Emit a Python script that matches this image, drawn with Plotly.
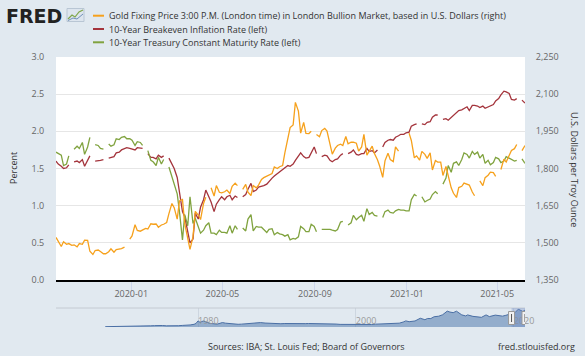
import plotly.graph_objects as go
import pandas as pd

START, END = '2019-09-23', '2021-06-07'
_days = pd.date_range(START, END, freq='D')
dates = [d.strftime('%Y-%m-%d') for d in _days if d.weekday() in (0, 3)]

# Gold Fixing Price 3:00 P.M. (USD / troy oz)
gold = [
    1522, 1504, 1485,
    1504, 1494, 1497, 1490, 1492, 1484, 1497, 1494, 1511,
    1510, 1466, 1453, 1469, 1471, 1465, 1456, 1456,
    1464, 1476, 1462, 1473, 1475, 1477, 1483, None, 1515,
    1528, 1573, 1550, 1547, 1551, 1558, 1556, 1577, 1575,
    1576, 1563, 1572, 1575, 1582, 1618, 1659, 1642,
    1596, 1669, 1675, 1577, 1515, 1474, 1525, 1627, 1612,
    1594, 1659, 1684, None, 1722, 1689, 1731, 1704, 1702,
    1706, 1713, 1699, 1728, 1741, 1731, None, 1716,
    1736, 1704, 1691, 1731, 1722, 1733, 1756, 1763, 1770,
    1772, 1780, 1806, 1800, 1807, 1812, 1863, 1931, 1965,
    1976, 2067, 2032, 1943, 1986, 1942, 1941, 1950, None,
    1937, 1928, 1953, 1962, 1951, 1894, 1858, 1882,
    1893, 1898, 1893, 1929, 1900, 1906, 1906, 1902, 1870,
    1887, 1938, 1854, 1868, 1890, 1860, 1835, 1809, 1764,
    1831, 1862, 1836, 1828, 1887, 1870, None, None, None,
    1943, 1913, 1843, 1851, 1834, 1869, 1857, 1841,
    1863, 1794, 1832, 1826, 1826, 1772, 1808, 1769,
    1722, 1700, 1683, 1723, 1728, 1741, 1736, 1733, 1705,
    1690, None, 1750, 1731, 1763, 1773, 1785, 1783, 1768,
    None, 1796, 1838, 1826, 1857, 1873, 1880, 1897, None,
    1872, 1893,
]

# 10-Year Breakeven Inflation Rate (%)
breakeven = [
    1.60, 1.56, 1.53,
    1.50, 1.51, 1.55, None, 1.59, 1.60, 1.58, 1.62, 1.53,
    1.60, 1.67, None, 1.60, 1.60, 1.61, 1.62, None,
    1.64, 1.65, 1.66, 1.71, 1.72, 1.75, 1.77, 1.78, 1.77,
    1.76, 1.75, 1.78, 1.77, 1.77, None, 1.70, 1.65, 1.65,
    1.63, 1.68, 1.65, 1.67, None, 1.64, 1.57, 1.50,
    1.38, 1.15, 0.92, 0.85, 0.62, 0.50, 0.55, 0.90, 0.82,
    0.98, 1.08, 1.21, 1.12, 1.05, 0.92, 1.02, 1.08, 1.12,
    1.08, 1.12, 1.14, 1.08, 1.13, 1.11, None, 1.12,
    1.15, 1.22, 1.30, 1.19, 1.21, 1.25, 1.26, 1.27, 1.29,
    1.33, 1.37, 1.40, 1.43, 1.46, 1.48, 1.50, 1.54, 1.53,
    1.56, 1.61, 1.66, 1.71, 1.66, 1.64, 1.65, 1.72, 1.79,
    1.70, None, 1.66, 1.68, 1.67, 1.61, 1.59, 1.62,
    1.63, 1.68, 1.70, None, 1.70, 1.72, 1.75, 1.69, 1.68,
    1.70, 1.70, 1.77, 1.73, 1.74, 1.71, 1.75, None, 1.79,
    1.85, 1.88, 1.89, 1.88, 1.92, 1.94, 1.96, 1.96, 1.98,
    1.99, 2.07, 2.09, 2.10, None, 2.10, 2.09, 2.12,
    2.13, 2.19, 2.22, 2.22, None, 2.16, 2.17, 2.15,
    2.19, 2.22, 2.25, 2.28, 2.29, 2.31, 2.33, 2.28, 2.35,
    2.35, 2.34, 2.32, 2.34, 2.31, 2.33, 2.34, 2.36, 2.41,
    2.44, 2.49, 2.54, 2.53, 2.51, 2.43, 2.42, 2.44, None,
    2.42, 2.38,
]

# 10-Year Treasury Constant Maturity Rate (%)
treasury = [
    1.72, 1.70, 1.68,
    1.54, 1.56, 1.67, None, 1.76, 1.80, 1.77, 1.85, 1.69,
    1.79, 1.92, None, 1.82, 1.81, 1.77, 1.76, None,
    1.83, 1.80, 1.82, 1.90, 1.89, 1.92, 1.93, 1.90, 1.90,
    1.88, 1.81, 1.86, 1.85, 1.81, None, 1.74, 1.61, 1.59,
    1.54, 1.65, 1.56, 1.62, None, 1.52, 1.38, 1.30,
    1.16, 0.92, 0.54, 0.88, 0.73, 1.12, 0.76, 0.83, 0.70,
    0.63, 0.67, 0.73, 0.77, 0.63, 0.63, 0.61, 0.67, 0.64,
    0.64, 0.63, 0.73, 0.63, 0.73, 0.68, None, 0.70,
    0.66, 0.82, 0.88, 0.66, 0.72, 0.71, 0.71, 0.68, 0.64,
    0.68, 0.69, 0.61, 0.64, 0.62, 0.61, 0.59, 0.61, 0.54,
    0.56, 0.55, 0.58, 0.72, 0.69, 0.65, 0.65, 0.75, 0.72,
    0.65, None, 0.68, 0.68, 0.69, 0.68, 0.67, 0.66,
    0.68, 0.78, 0.79, None, 0.74, 0.77, 0.87, 0.81, 0.84,
    0.87, 0.79, 0.96, 0.88, 0.91, 0.87, 0.86, None, 0.84,
    0.92, 0.94, 0.91, 0.90, 0.93, 0.95, 0.94, 0.94, 0.93,
    0.93, 1.08, 1.15, 1.13, None, 1.12, 1.05, 1.07,
    1.09, 1.15, 1.19, 1.16, None, 1.29, 1.37, 1.54,
    1.45, 1.57, 1.59, 1.54, 1.62, 1.71, 1.69, 1.64, 1.73,
    1.69, 1.72, 1.64, 1.69, 1.57, 1.61, 1.55, 1.58, 1.65,
    1.63, 1.58, 1.60, 1.66, 1.64, 1.63, 1.60, 1.61, None,
    1.63, 1.57,
]

# Navigator: long-run gold history (approximate)
nav_dates = [
    '1968-04-01', '1969-01-01', '1970-01-01', '1971-01-01', '1972-01-01', '1972-07-01',
    '1973-01-01', '1973-07-01', '1974-01-01', '1974-07-01', '1975-01-01', '1975-07-01',
    '1976-01-01', '1976-08-01', '1977-01-01', '1977-07-01', '1978-01-01', '1978-07-01',
    '1979-01-01', '1979-07-01', '1979-10-01', '1980-01-01', '1980-04-01', '1980-09-01',
    '1981-01-01', '1981-07-01', '1982-06-01', '1982-11-01', '1983-02-01', '1983-07-01',
    '1984-01-01', '1984-07-01', '1985-02-01', '1985-07-01', '1986-01-01', '1986-09-01',
    '1987-01-01', '1987-07-01', '1987-12-01', '1988-07-01', '1989-01-01', '1989-07-01',
    '1990-01-01', '1990-07-01', '1991-01-01', '1991-07-01', '1992-01-01', '1992-07-01',
    '1993-03-01', '1993-08-01', '1994-01-01', '1995-01-01', '1996-02-01', '1996-12-01',
    '1997-07-01', '1998-01-01', '1999-07-01', '1999-10-01', '2000-07-01', '2001-04-01',
    '2002-01-01', '2002-07-01', '2003-07-01', '2004-01-01', '2004-07-01', '2005-07-01',
    '2006-01-01', '2006-05-01', '2006-10-01', '2007-07-01', '2008-03-01', '2008-10-01',
    '2009-02-01', '2009-07-01', '2009-12-01', '2010-07-01', '2011-01-01', '2011-08-01',
    '2011-12-01', '2012-05-01', '2012-10-01', '2013-06-01', '2013-12-01', '2014-03-01',
    '2014-11-01', '2015-07-01', '2015-12-01', '2016-07-01', '2016-12-01', '2017-09-01',
    '2018-08-01', '2019-01-01', '2019-09-01', '2020-03-01', '2020-08-01', '2020-11-01',
    '2021-03-01', '2021-06-07',
]
nav_gold = [
    38, 42, 35, 38, 46, 65,
    65, 120, 130, 150, 176, 165,
    128, 110, 132, 143, 173, 184,
    227, 296, 392, 675, 517, 666,
    557, 409, 315, 413, 490, 422,
    370, 348, 299, 317, 345, 420,
    400, 450, 486, 437, 404, 368,
    410, 362, 383, 368, 354, 353,
    330, 372, 387, 379, 405, 369,
    324, 289, 256, 300, 282, 260,
    282, 314, 350, 413, 392, 424,
    549, 675, 585, 665, 968, 806,
    943, 935, 1135, 1193, 1356, 1756,
    1652, 1585, 1747, 1342, 1225, 1336,
    1176, 1131, 1068, 1337, 1150, 1314,
    1201, 1291, 1511, 1592, 1968, 1866,
    1718, 1880,
]
nav_label_dates = ['1980-01-01', '2000-01-01', '2020-01-01']
nav_labels = ['1980', '2000', '2020']

series_names = [
    'Gold Fixing Price 3:00 P.M. (London time) in London Bullion Market, based in U.S. Dollars (right)',
    '10-Year Breakeven Inflation Rate (left)',
    '10-Year Treasury Constant Maturity Rate (left)',
]
ORANGE, RED, GREEN = '#f6a11c', '#a4343c', '#80a33f'
colors = [ORANGE, RED, GREEN]

W, H = 585, 356
L, R, T, B = 56, 525, 57, 327   # plot box in px (main + navigator)
MAIN_BOTTOM = 280
NAV_TOP = 308


def px(x):
    return (x - L) / (R - L)


def py(y):
    return (B - y) / (B - T)


BG = '#e1e9f0'
FONT = 'Open Sans'
TXT = '#333333'
TICK = '#666666'

fig = go.Figure()

fig.add_trace(go.Scatter(x=dates, y=gold, mode='lines', xaxis='x', yaxis='y2',
                         line=dict(color=ORANGE, width=1.3), connectgaps=False,
                         hoverinfo='skip', showlegend=False))
fig.add_trace(go.Scatter(x=dates, y=breakeven, mode='lines', xaxis='x', yaxis='y',
                         line=dict(color=RED, width=1.3), connectgaps=False,
                         hoverinfo='skip', showlegend=False))
fig.add_trace(go.Scatter(x=dates, y=treasury, mode='lines', xaxis='x', yaxis='y',
                         line=dict(color=GREEN, width=1.3), connectgaps=False,
                         hoverinfo='skip', showlegend=False))

# navigator
fig.add_trace(go.Scatter(x=nav_dates, y=nav_gold, mode='lines', xaxis='x2', yaxis='y3',
                         fill='tozeroy', fillcolor='rgba(69,114,167,0.5)',
                         line=dict(color='#4a6fa5', width=1), hoverinfo='skip',
                         showlegend=False))
fig.add_trace(go.Scatter(x=nav_label_dates, y=[560] * len(nav_labels), text=nav_labels,
                         mode='text', textposition='middle right', xaxis='x2', yaxis='y3',
                         textfont=dict(family=FONT, size=9, color='#999999'),
                         cliponaxis=False, hoverinfo='skip', showlegend=False))

main_dom = [py(MAIN_BOTTOM), 1]
nav_dom = [0, py(NAV_TOP)]

fig.update_layout(
    width=W, height=H,
    margin=dict(l=L, r=W - R, t=T, b=H - B, pad=0),
    paper_bgcolor=BG, plot_bgcolor=BG,
    font=dict(family=FONT, size=9, color=TXT),
    showlegend=False,
    xaxis=dict(domain=[0, 1], anchor='y', type='date', range=[START, END],
               tick0='2020-01-01', dtick='M4', tickformat='%Y-%m',
               ticks='outside', ticklen=10, tickcolor='#ccd6eb', tickwidth=1,
               ticklabelstandoff=-6,
               showline=True, linecolor='#000000', linewidth=2, showgrid=False,
               zeroline=False, tickfont=dict(family=FONT, size=9, color=TICK)),
    yaxis=dict(domain=main_dom, anchor='x', range=[0, 3], dtick=0.5, tickformat='.1f',
               gridcolor='#e6e6e6', gridwidth=1, zeroline=False, showline=False,
               ticks='outside', ticklen=9, tickcolor='rgba(0,0,0,0)',
               tickfont=dict(family=FONT, size=9, color=TICK)),
    yaxis2=dict(domain=main_dom, anchor='x', overlaying='y', side='right',
                range=[1350, 2250], dtick=150, tickformat=',d', showgrid=False,
                zeroline=False, showline=False, ticks='outside', ticklen=8,
                tickcolor='rgba(0,0,0,0)',
                tickfont=dict(family=FONT, size=9, color=TICK)),
    xaxis2=dict(domain=[0, 1], anchor='y3', type='date', range=['1962-01-02', END],
                tickvals=nav_label_dates, showticklabels=False, ticks='',
                showgrid=True, gridcolor='#cdd6e0', gridwidth=1,
                showline=False, zeroline=False),
    yaxis3=dict(domain=nav_dom, anchor='x2', range=[0, 2100], visible=False),
)

shapes = []
# white main plot area
shapes.append(dict(type='rect', xref='x domain', yref='y domain', x0=0, x1=1, y0=0, y1=1,
                   fillcolor='white', line=dict(width=0), layer='below'))
# navigator outline top
shapes.append(dict(type='line', xref='paper', yref='paper', x0=0, x1=1,
                   y0=py(NAV_TOP), y1=py(NAV_TOP), line=dict(color='#c4cad2', width=1)))
# navigator mask
shapes.append(dict(type='rect', xref='x2', yref='paper', x0=START, x1=END,
                   y0=0, y1=py(NAV_TOP), fillcolor='rgba(102,133,194,0.3)',
                   line=dict(width=0), layer='above'))
# navigator handles
for xa in (START, END):
    shapes.append(dict(type='rect', xref='x2', xsizemode='pixel', xanchor=xa,
                       x0=-3, x1=3, yref='paper', y0=py(324.5), y1=py(311.5),
                       fillcolor='#f2f2f2', line=dict(color='#999999', width=1),
                       layer='above'))
    shapes.append(dict(type='line', xref='x2', xsizemode='pixel', xanchor=xa,
                       x0=0, x1=0, yref='paper', y0=py(322), y1=py(314),
                       line=dict(color='#555555', width=1), layer='above'))
# legend line markers
legend_y = [15.7, 29.0, 42.3]
for c, yy in zip(colors, legend_y):
    shapes.append(dict(type='line', xref='paper', yref='paper', x0=px(93), x1=px(104),
                       y0=py(yy), y1=py(yy), line=dict(color=c, width=2)))
# FRED icon
shapes.append(dict(type='rect', xref='paper', yref='paper', x0=px(67), x1=px(84),
                   y0=py(21.5), y1=py(8.5), fillcolor='#dde5ee',
                   line=dict(color='#b9c6d4', width=1)))
shapes.append(dict(type='path', xref='paper', yref='paper',
                   path='M {} {} L {} {} L {} {} L {} {} L {} {}'.format(
                       px(68), py(19), px(72), py(15), px(75), py(17), px(79), py(12), px(83), py(10)),
                   line=dict(color='#7fa64a', width=1.2)))
shapes.append(dict(type='path', xref='paper', yref='paper',
                   path='M {} {} L {} {} L {} {} L {} {}'.format(
                       px(68), py(20.5), px(73), py(18), px(77), py(19), px(83), py(14)),
                   line=dict(color='#6f8fb8', width=1)))
fig.update_layout(shapes=shapes)

ann = []
for name, yy in zip(series_names, legend_y):
    ann.append(dict(text=name, x=px(107), y=py(yy), xref='paper', yref='paper',
                    xanchor='left', yanchor='middle', showarrow=False,
                    font=dict(family=FONT, size=9, color=TXT)))
ann.append(dict(text='<b>FRED</b>', x=px(4), y=py(15.5), xref='paper', yref='paper',
                xanchor='left', yanchor='middle', showarrow=False,
                font=dict(family='DejaVu Sans', size=19, color='#222222')))
ann.append(dict(text='Percent', x=px(13), y=py(168), xref='paper', yref='paper',
                textangle=-90, xanchor='center', yanchor='middle', showarrow=False,
                font=dict(family=FONT, size=9, color=TXT)))
ann.append(dict(text='U.S. Dollars per Troy Ounce', x=px(575), y=py(169), xref='paper',
                yref='paper', textangle=90, xanchor='center', yanchor='middle',
                showarrow=False, font=dict(family=FONT, size=9, color=TXT)))
ann.append(dict(text='Sources: IBA; St. Louis Fed; Board of Governors', x=px(306),
                y=py(346.5), xref='paper', yref='paper', xanchor='center',
                yanchor='middle', showarrow=False,
                font=dict(family=FONT, size=9, color=TXT)))
ann.append(dict(text='fred.stlouisfed.org', x=px(577), y=py(346.5), xref='paper',
                yref='paper', xanchor='right', yanchor='middle', showarrow=False,
                font=dict(family=FONT, size=9, color=TXT)))
fig.update_layout(annotations=ann)

fig.write_html('out.html', config={'displayModeBar': False},
               post_script="document.body.style.margin='0';document.body.style.padding='0';")
